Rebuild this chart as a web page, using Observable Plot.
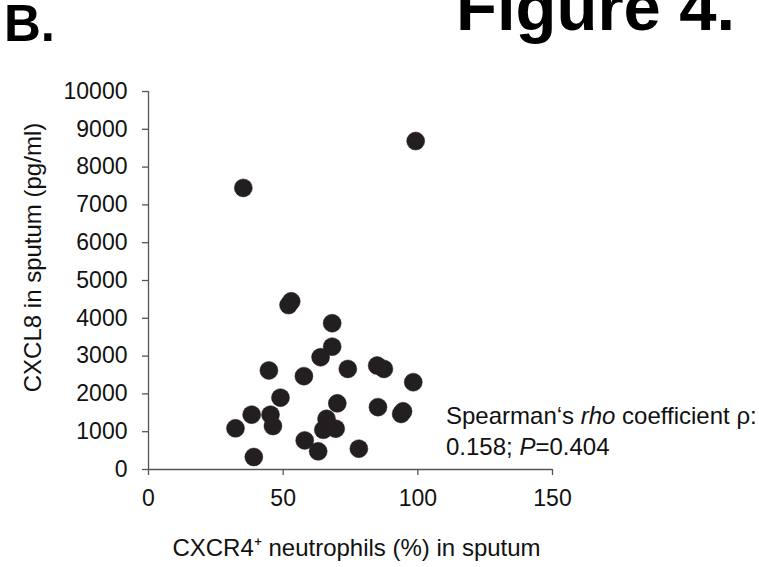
<!DOCTYPE html>
<html>
<head>
<meta charset="utf-8">
<script src="https://cdn.jsdelivr.net/npm/d3@7"></script>
<script src="https://cdn.jsdelivr.net/npm/@observablehq/plot@0.6"></script>
<style>
  html, body { margin: 0; padding: 0; background: #fff; }
  body { width: 759px; height: 567px; overflow: hidden; position: relative; font-family: "Liberation Sans", Arial, sans-serif; }
  #chart { position: absolute; left: 0; top: 0; }
  .title { position: absolute; font-weight: bold; color: #000; white-space: nowrap; }
  #panel { left: 4px; top: -2px; font-size: 51px; line-height: 51px; }
  #fig { left: 456px; top: -27px; font-size: 67px; line-height: 67px; }
  #note { position: absolute; left: 446px; top: 400px; font-size: 24px; line-height: 31px; color: #111; white-space: nowrap; }
</style>
</head>
<body>
<div id="chart"></div>
<div class="title" id="panel">B.</div>
<div class="title" id="fig">Figure 4.</div>
<div id="note">Spearman‘s <i>rho</i> coefficient ρ:<br>0.158; <i>P</i>=0.404</div>
<script>
// CXCR4+ neutrophils (%) in sputum
const cxcr4 = [35.2, 99.2, 52.0, 53.0, 68.2, 68.2, 63.9, 44.7, 57.7, 74.0, 84.9, 87.4, 98.3, 49.0, 70.1, 85.2, 93.8, 94.5, 38.3, 45.3, 46.2, 32.3, 66.1, 64.9, 69.5, 58.0, 63.0, 78.1, 39.1];
// CXCL8 in sputum (pg/ml)
const cxcl8 = [7450, 8690, 4350, 4450, 3870, 3250, 2970, 2620, 2470, 2660, 2750, 2660, 2310, 1900, 1750, 1650, 1470, 1540, 1450, 1450, 1150, 1090, 1340, 1050, 1080, 770, 480, 550, 330];
const xTicks = [0, 50, 100, 150];
const yTicks = [0, 1000, 2000, 3000, 4000, 5000, 6000, 7000, 8000, 9000, 10000];
const xLabel = "CXCR4\u207A neutrophils (%) in sputum";
const yLabel = "CXCL8 in sputum (pg/ml)";

const data = cxcr4.map((x, i) => ({x, y: cxcl8[i]}));
const axisColor = "#555";

const chart = Plot.plot({
  width: 759,
  height: 567,
  marginLeft: 148,
  marginRight: 207,
  marginTop: 91,
  marginBottom: 98,
  style: {fontFamily: "'Liberation Sans', Arial, sans-serif", fontSize: "23px", color: "#111", background: "transparent"},
  x: {domain: [0, 150]},
  y: {domain: [0, 10000]},
  marks: [
    Plot.ruleX([0], {stroke: axisColor, strokeWidth: 1.3}),
    Plot.ruleY([0], {stroke: axisColor, strokeWidth: 1.3}),
    Plot.axisX(xTicks, {tickSize: 6, tickPadding: 14, stroke: axisColor, strokeWidth: 1.3, fontSize: 23, fill: "#111", label: null}),
    Plot.axisY(yTicks, {tickSize: 6, tickPadding: 15, stroke: axisColor, strokeWidth: 1.3, fontSize: 23, fill: "#111", label: null, tickFormat: d => String(d)}),
    Plot.dot(data, {x: "x", y: "y", r: 9, fill: "#231f20", stroke: "#231f20", strokeWidth: 0.5}),
    Plot.text([xLabel], {text: d => d, frameAnchor: "bottom", dx: 6, dy: 79, lineAnchor: "middle", fontSize: 24, fill: "#111"}),
    Plot.text([yLabel], {text: d => d, frameAnchor: "left", rotate: -90, dx: -115, dy: -23, textAnchor: "middle", lineAnchor: "middle", fontSize: 24, fill: "#111"})
  ]
});
document.getElementById("chart").appendChild(chart);
</script>
</body>
</html>
